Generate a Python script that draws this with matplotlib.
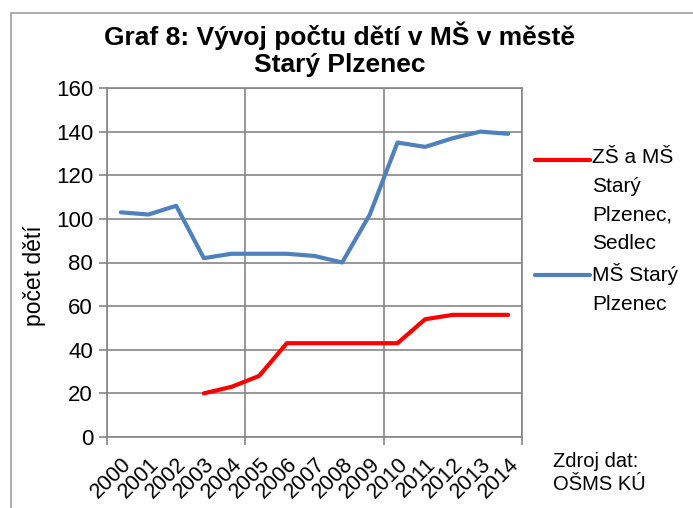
import matplotlib
matplotlib.use("Agg")
from matplotlib import pyplot as plt
from matplotlib.lines import Line2D
from matplotlib.patches import Rectangle

plt.rcParams['font.family'] = ['Liberation Sans', 'DejaVu Sans']

years = [str(y) for y in range(2000, 2015)]
zs_ms = [None, None, None, 20, 23, 28, 43, 43, 43, 43, 43, 54, 56, 56, 56]
ms = [103, 102, 106, 82, 84, 84, 84, 83, 80, 102, 135, 133, 137, 140, 139]
series_names = ["ZŠ a MŠ\nStarý\nPlzenec,\nSedlec", "MŠ Starý\nPlzenec"]
series_colors = ["#FF0000", "#4F81BD"]

grid_c = "#868686"

fig = plt.figure(figsize=(6.93, 5.08), dpi=100)
fig.add_artist(Rectangle((11/693, -0.1), 1.2, 1 - 13/508 + 0.1, transform=fig.transFigure,
                         fill=False, edgecolor="#A0A0A0", lw=1.2))
ax = fig.add_axes([107/693, 1 - 437/508, (522 - 107)/693, (437 - 88)/508])

x = list(range(len(years)))
rx = [i for i, v in enumerate(zs_ms) if v is not None]
ry = [v for v in zs_ms if v is not None]
ax.plot(rx, ry, color=series_colors[0], lw=3, solid_capstyle='round', zorder=3)
ax.plot(x, ms, color=series_colors[1], lw=3, solid_capstyle='round', zorder=3)

ax.set_xlim(-0.5, len(years) - 0.5)
ax.set_ylim(0, 160)
ax.set_yticks(range(0, 161, 20))
ax.set_xticks([-0.5, 4.5, 9.5, 14.5])
ax.set_xticks(x, minor=True)
ax.set_xticklabels([])
ax.set_xticklabels(years, minor=True, rotation=45, ha='right', va='top',
                   rotation_mode='anchor', fontsize=15.5)
ax.tick_params(axis='x', which='minor', length=0, pad=12)
ax.tick_params(axis='x', which='major', length=6, color=grid_c, width=1.2)
ax.tick_params(axis='y', length=6, color=grid_c, width=1.2, labelsize=16, pad=4)
ax.grid(True, which='major', color=grid_c, lw=1.2)
ax.set_axisbelow(True)
for s in ax.spines.values():
    s.set_color(grid_c)
    s.set_linewidth(1.2)
ax.set_ylabel("počet dětí", fontsize=16.5)
ax.yaxis.set_label_coords(-0.146, 0.461)

fig.text(340/693, 1 - 49/508, "Graf 8: Vývoj počtu dětí v MŠ v městě\nStarý Plzenec",
         ha='center', va='center', fontsize=19, fontweight='bold', linespacing=1.15)

# legend
leg_y = [160, 275]
for name, c, yy in zip(series_names, series_colors, leg_y):
    fy = 1 - yy/508
    fig.add_artist(Line2D([535/693, 590/693], [fy, fy], transform=fig.transFigure,
                          color=c, lw=3, solid_capstyle='round'))
    fig.text(592/693, 1 - (yy - 12)/508, name, ha='left', va='top', fontsize=15,
             linespacing=1.65)

fig.text(553/693, 1 - 452/508, "Zdroj dat:\nOŠMS KÚ", ha='left', va='top', fontsize=14.5,
         linespacing=1.3)

fig.savefig("out.png", dpi=100)
